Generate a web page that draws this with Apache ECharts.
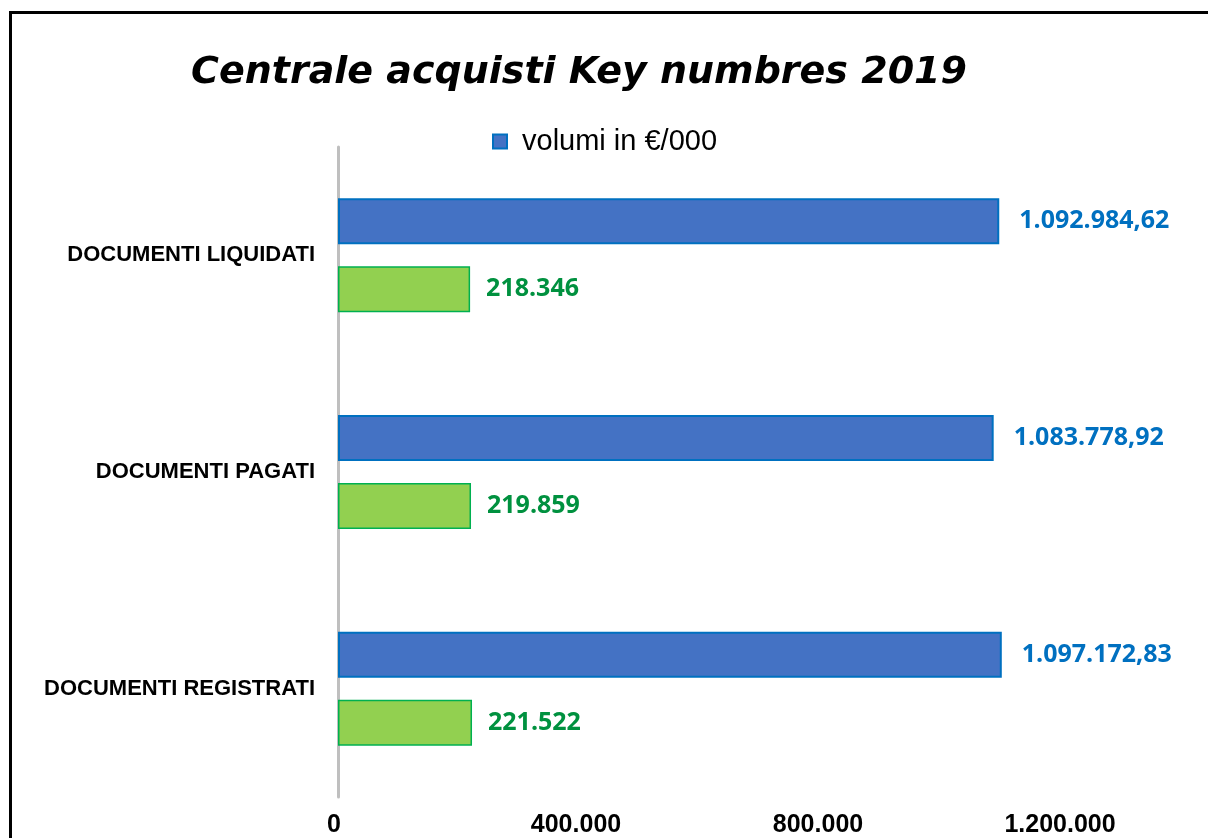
<!DOCTYPE html>
<html>
<head>
    <meta charset="utf-8">
    <title>Centrale acquisti Key numbres 2019</title>
    <script src="https://cdn.jsdelivr.net/npm/echarts@6/dist/echarts.min.js"></script>
    <style>
        html, body { margin: 0; padding: 0; background: #fff; overflow: hidden; width: 1208px; height: 838px; }
        #main { position: absolute; left: 0; top: 0; width: 1400px; height: 900px; }
        /* cornice del grafico: visibili solo lato sinistro e superiore */
        #frame { position: absolute; left: 9px; top: 11px; width: 1400px; height: 1000px;
                 border-left: 3px solid #000; border-top: 3px solid #000; pointer-events: none; }
    </style>
</head>
<body>
<div id="main"></div>
<div id="frame"></div>
<script>
    // dati (categorie dal basso verso l'alto)
    var categorie = ['DOCUMENTI REGISTRATI', 'DOCUMENTI PAGATI', 'DOCUMENTI LIQUIDATI'];
    var volumi = [1097172.83, 1083778.92, 1092984.62];
    var documenti = [221522, 219859, 218346];
    var tickValori = [0, 400000, 800000, 1200000, 1600000];

    // formato italiano: 1.092.984,62
    function numIt(v, dec) {
        var parti = v.toFixed(dec).split('.');
        var intero = parti[0].replace(/\B(?=(\d{3})+(?!\d))/g, '.');
        return dec ? intero + ',' + parti[1] : intero;
    }

    var myChart = echarts.init(document.getElementById('main'));
    myChart.setOption({
        backgroundColor: '#fff',
        animation: false,
        title: {
            text: 'Centrale acquisti Key numbres 2019',
            left: 579,
            top: 54,
            padding: 0,
            textAlign: 'center',
            textStyle: {
                fontFamily: 'DejaVu Sans',
                fontStyle: 'italic',
                fontWeight: 'bold',
                fontSize: 38,
                color: '#000'
            }
        },
        legend: {
            data: ['volumi in €/000'],
            left: 492,
            top: 127,
            padding: 0,
            itemWidth: 14,
            itemHeight: 14,
            icon: 'rect',
            textStyle: {
                fontFamily: 'Liberation Sans',
                fontSize: 29,
                color: '#000',
                padding: [0, 0, 0, 10]
            }
        },
        grid: {
            left: 338,
            top: 147,
            width: 968,
            height: 650,
            outerBoundsMode: 'none'
        },
        xAxis: {
            type: 'value',
            min: tickValori[0],
            max: tickValori[tickValori.length - 1],
            interval: 400000,
            axisLine: { show: false },
            axisTick: { show: false },
            splitLine: { show: false },
            axisLabel: {
                margin: 16,
                fontFamily: 'Liberation Sans',
                fontWeight: 'bold',
                fontSize: 25,
                color: '#000',
                padding: [0, 8, 0, 0],
                formatter: function (v) { return numIt(v, 0); }
            }
        },
        yAxis: {
            type: 'category',
            data: categorie,
            axisLine: { show: true, lineStyle: { color: '#bfbfbf', width: 3 } },
            axisTick: { show: false },
            axisLabel: {
                margin: 23,
                fontFamily: 'Liberation Sans',
                fontWeight: 'bold',
                fontSize: 22,
                color: '#000'
            }
        },
        series: [{
            name: 'volumi in €/000',
            type: 'bar',
            data: volumi,
            barWidth: 46,
            barGap: '48%',
            itemStyle: { color: '#4472c4', borderColor: '#0070c0', borderWidth: 2 },
            label: {
                show: true,
                position: 'right',
                distance: 20,
                fontFamily: 'Open Sans',
                fontWeight: 'bold',
                fontSize: 25,
                color: '#0070c0',
                formatter: function (p) { return numIt(p.value, 2); }
            }
        }, {
            name: 'numero documenti',
            type: 'bar',
            data: documenti,
            barWidth: 46,
            barGap: '48%',
            itemStyle: { color: '#92d050', borderColor: '#00b050', borderWidth: 1.5 },
            label: {
                show: true,
                position: 'right',
                distance: 16,
                fontFamily: 'Open Sans',
                fontWeight: 'bold',
                fontSize: 25,
                color: '#00913f',
                formatter: function (p) { return numIt(p.value, 0); }
            }
        }]
    });
</script>
</body>
</html>
